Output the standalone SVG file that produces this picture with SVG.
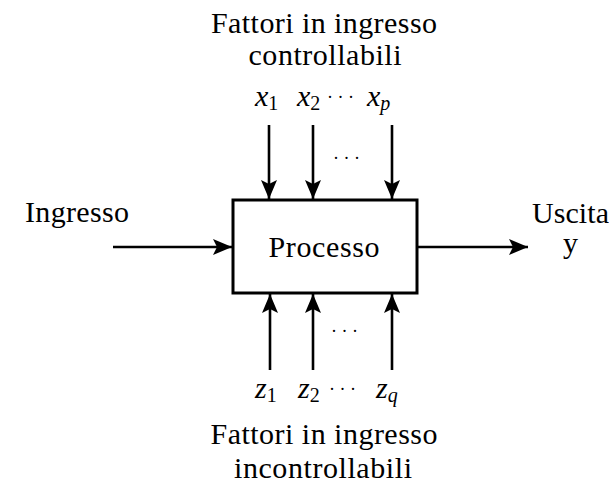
<svg xmlns="http://www.w3.org/2000/svg" width="609" height="486" viewBox="0 0 609 486">
<style>
text{font-family:"Liberation Serif","Times New Roman",serif;fill:#000;font-size:30px}
.m{font-style:italic}
.s{font-size:20px;font-style:normal}
.ss{font-size:20px;font-style:italic}
.c{stroke:#000;stroke-width:2.6;fill:none}
.d{font-size:18px}
</style>
<defs>
<marker id="ah" markerUnits="userSpaceOnUse" markerWidth="20" markerHeight="16" viewBox="0 0 20 16" refX="19" refY="8" orient="auto">
<path d="M0,0 L19,8 L0,16 L4,8 Z" fill="#000"/>
</marker>
</defs>
<rect width="609" height="486" fill="#fff"/>
<g id="title-top">
<text x="324" y="33" text-anchor="middle" textLength="226">Fattori in ingresso</text>
<text x="325" y="65" text-anchor="middle" textLength="153">controllabili</text>
</g>
<g id="x-labels">
<text x="255" y="106" class="m">x<tspan class="s" dy="4">1</tspan></text>
<text x="297" y="106" class="m">x<tspan class="s" dy="4">2</tspan></text>
<text x="327" y="103" class="d">·  ·  ·</text>
<text x="367" y="106" class="m">x<tspan class="ss" dy="4">p</tspan></text>
</g>
<g id="processo">
<rect x="233" y="200" width="184" height="93" fill="#fff" stroke="#000" stroke-width="3"/>
<text x="324" y="257" text-anchor="middle" textLength="111">Processo</text>
</g>
<g id="ingresso">
<text x="25" y="222" textLength="104">Ingresso</text>
</g>
<g id="uscita">
<text x="532" y="223" textLength="77">Uscita</text>
<text x="563" y="253">y</text>
</g>
<g id="z-labels">
<text x="255" y="398" class="m">z<tspan class="s" dy="4">1</tspan></text>
<text x="298" y="398" class="m">z<tspan class="s" dy="4">2</tspan></text>
<text x="329" y="395" class="d">·  ·  ·</text>
<text x="376" y="398" class="m">z<tspan class="ss" dy="4">q</tspan></text>
</g>
<g id="title-bottom">
<text x="324" y="444" text-anchor="middle" textLength="227">Fattori in ingresso</text>
<text x="323" y="478" text-anchor="middle" textLength="178">incontrollabili</text>
</g>
<g id="dots">
<text x="333" y="164" class="d">·  ·  ·</text>
<text x="331" y="337" class="d">·  ·  ·</text>
</g>
<g id="connectors">
<line class="c" x1="113" y1="247" x2="232" y2="247" marker-end="url(#ah)"/>
<line class="c" x1="417" y1="247" x2="528" y2="247" marker-end="url(#ah)"/>
<line class="c" x1="269" y1="125" x2="269" y2="199" marker-end="url(#ah)"/>
<line class="c" x1="313" y1="125" x2="313" y2="199" marker-end="url(#ah)"/>
<line class="c" x1="392" y1="125" x2="392" y2="199" marker-end="url(#ah)"/>
<line class="c" x1="270" y1="370" x2="270" y2="294" marker-end="url(#ah)"/>
<line class="c" x1="313" y1="370" x2="313" y2="294" marker-end="url(#ah)"/>
<line class="c" x1="392" y1="370" x2="392" y2="294" marker-end="url(#ah)"/>
</g>
</svg>
